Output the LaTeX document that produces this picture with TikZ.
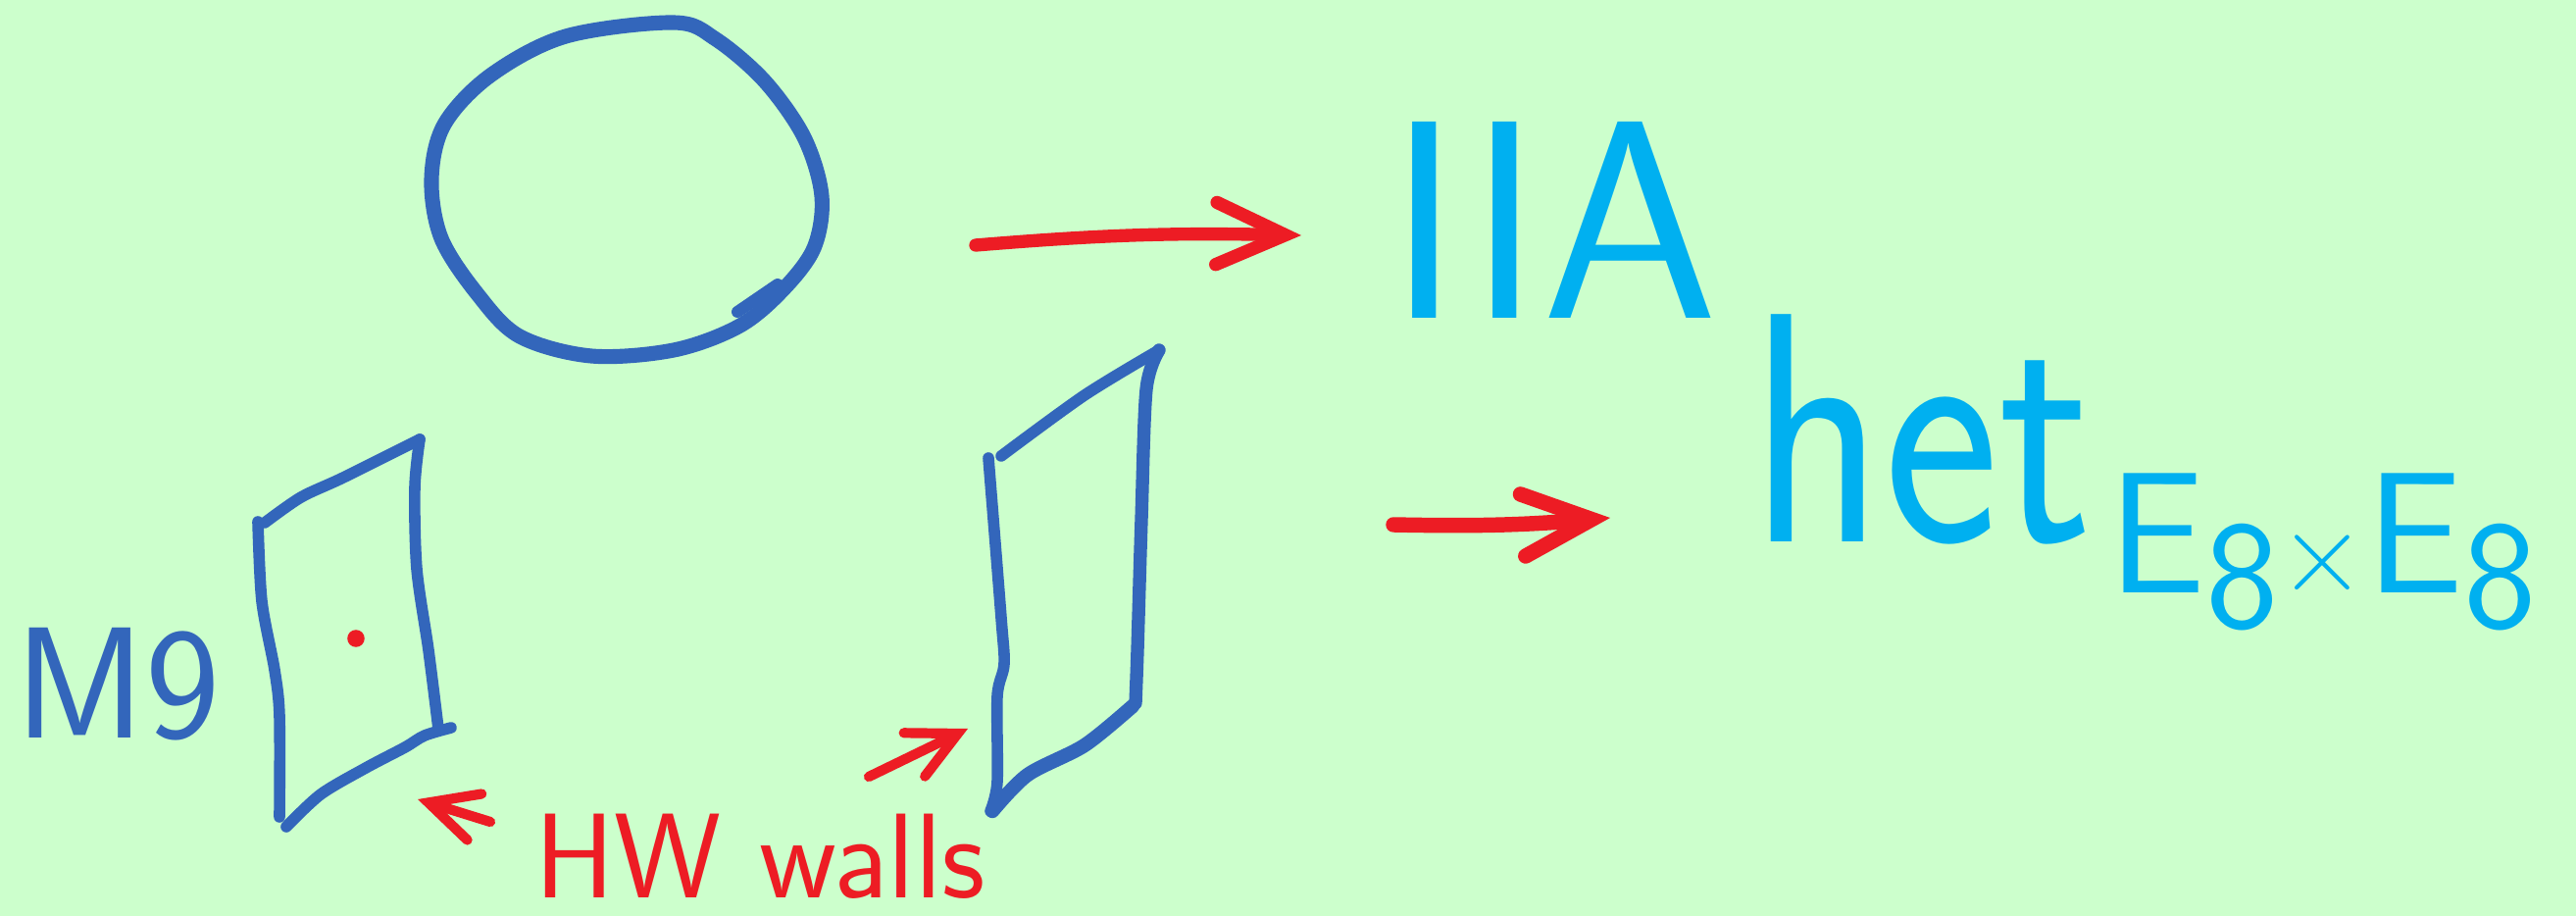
\documentclass[tikz,border=0pt]{standalone}
\usepackage{graphicx}
\usepackage{tikz}
\usetikzlibrary{positioning,arrows.meta}
\definecolor{paper}{HTML}{CCFFCC}
\definecolor{ink}{HTML}{3366BB}
\definecolor{sky}{HTML}{00B0F0}
\definecolor{pen}{HTML}{ED1C24}

\begin{document}
\begin{tikzpicture}[
      x=0.01cm, y=-0.01cm,
      sketch/.style={draw=ink, line width=4.3pt, line cap=round, line join=round},
      wall/.style={draw=ink, line width=3.3pt, line cap=round, line join=round},
      redarrow/.style={draw=pen, line width=3.8pt, line cap=round,
        -{Straight Barb[length=20pt, width=18pt, line cap=round]}},
      hwarrow/.style={redarrow, line width=2.9pt,
        -{Straight Barb[length=14pt, width=14pt, line cap=round]}},
      label/.style={font=\sffamily, inner sep=0pt}
    ]
    \fill[paper] (0,0) rectangle (2627,934);
    \useasboundingbox (0,0) rectangle (2627,934);

    % circle
    \draw[sketch] plot[smooth cycle, tension=0.55] coordinates {(687,23) (577,37) (500,77) (453,127) (440,183) (450,243) (487,300) (530,343) (603,363) (687,357) (753,333) (797,297) (830,253) (838,200) (820,140) (780,83) (730,40)};
    \draw[sketch, line width=3.4pt] (752,318) -- (793,290);

    % left wall
    \draw[wall] plot[smooth] coordinates {(270,533) (307,507) (350,487) (428,448)};
    \draw[wall] plot[smooth] coordinates {(428,448) (423,497) (425,580) (437,663) (447,743)};
    \draw[wall] plot[smooth] coordinates {(460,742) (433,750) (413,762) (373,783) (327,810) (292,843)};
    \draw[wall] plot[smooth] coordinates {(263,532) (267,613) (280,683) (285,730) (285,833)};
    \fill[pen] (363,651) circle (2.5pt);

    % right wall
    \draw[wall] plot[smooth] coordinates {(1021,465) (1106,403) (1182,357)};
    \draw[wall, line width=3.8pt] plot[smooth] coordinates {(1182,357) (1169,397) (1164,530) (1160,663) (1158,717)};
    \draw[wall, line width=4.1pt] plot[smooth] coordinates {(1155,720) (1106,760) (1048,790) (1012,827)};
    \draw[wall] plot[smooth] coordinates {(1008,467) (1021,630) (1024,677) (1017,710) (1017,797) (1010,827)};

    % texts
    \node[label, anchor=base west, text=sky, font=\sffamily\fontsize{82}{90}\selectfont] (iia) at (1415,325) {IIA};
    \node[label, anchor=base west, text=sky, font=\sffamily\fontsize{95}{100}\selectfont] (het) at (1785,553) {\scalebox{0.84}[1]{het}};
    \node[label, anchor=base west, text=sky, font=\sffamily\fontsize{50}{60}\selectfont] (sub) at (2150,605)
      {E\raisebox{-10pt}{\fontsize{45}{50}\selectfont 8}{\fontsize{35}{40}\selectfont ×}E\raisebox{-10pt}{\fontsize{45}{50}\selectfont 8}};
    \node[label, anchor=base west, text=ink, font=\sffamily\fontsize{46}{56}\selectfont] (mnine) at (15,752) {M9};
    \node[label, anchor=base, text=pen, font=\sffamily\fontsize{35}{40}\selectfont] (hw) at (775,915) {HW walls};

    % arrows
    \coordinate (cirR) at (995,250);
    \coordinate (iiaL) at (1327,240);
    \coordinate (wallR) at (1421,535);
    \coordinate (hetL) at (1642,528);
    \coordinate (hwL) at (500,838);
    \coordinate (hwR) at (886,792);
    \coordinate (leftW) at (426,815);
    \coordinate (rightW) at (987,743);
    \draw[redarrow] (cirR) to[bend left=3] (iiaL);
    \draw[redarrow, line width=4.4pt] (wallR) to[bend right=3] (hetL);
    \draw[hwarrow] (hwL) -- (leftW);
    \draw[hwarrow] (hwR) -- (rightW);
\end{tikzpicture}
\end{document}
